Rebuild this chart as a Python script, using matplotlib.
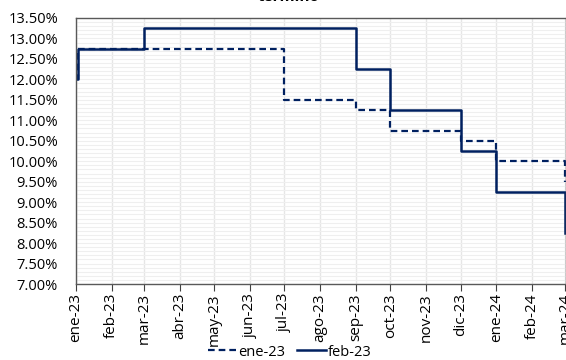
import matplotlib
matplotlib.use("Agg")
import matplotlib.pyplot as plt
from matplotlib.ticker import MultipleLocator, FuncFormatter
import pandas as pd

plt.rcParams['font.family'] = ['Open Sans', 'DejaVu Sans']

# Policy-rate path expected in each survey (change dates and levels, %)
ene23_dates = ['2023-01-01', '2023-01-03', '2023-07-01', '2023-09-01',
               '2023-10-01', '2023-12-01', '2024-01-01', '2024-03-01']
ene23_vals = [12.00, 12.75, 11.50, 11.25, 10.75, 10.50, 10.00, 9.50]

feb23_dates = ['2023-01-01', '2023-01-03', '2023-03-01', '2023-09-01',
               '2023-10-01', '2023-12-01', '2024-01-01', '2024-03-01']
feb23_vals = [12.00, 12.75, 13.25, 12.25, 11.25, 10.25, 9.25, 8.25]

month_ticks = pd.date_range('2023-01-01', '2024-03-01', freq='MS')
month_abbr = ['ene', 'feb', 'mar', 'abr', 'may', 'jun', 'jul', 'ago',
              'sep', 'oct', 'nov', 'dic']
tick_labels = [f"{month_abbr[d.month - 1]}-{d.year % 100:02d}" for d in month_ticks]

navy = '#002060'

fig = plt.figure(figsize=(5.66, 3.60), dpi=100)
ax = fig.add_axes([76 / 566, 76 / 360, 490 / 566, 266 / 360])

ax.plot(pd.to_datetime(ene23_dates), ene23_vals, drawstyle='steps-post',
        color=navy, lw=1.6, linestyle=(0, (3, 1.8)), label='ene-23')
ax.plot(pd.to_datetime(feb23_dates), feb23_vals, drawstyle='steps-post',
        color=navy, lw=1.8, label='feb-23')

ax.set_xlim(pd.Timestamp('2023-01-01'), pd.Timestamp('2024-03-01') + pd.Timedelta(hours=12))
ax.set_ylim(7.0, 13.5)

ax.set_xticks(month_ticks)
ax.set_xticklabels(tick_labels, rotation=90, fontsize=11)
ax.yaxis.set_major_locator(MultipleLocator(0.5))
ax.yaxis.set_minor_locator(MultipleLocator(0.1))
ax.yaxis.set_major_formatter(FuncFormatter(lambda v, p: f"{v:.2f}%"))
ax.tick_params(axis='y', which='both', length=0, labelsize=10.5, pad=13)
ax.tick_params(axis='x', length=5, color='#404040', pad=1.5)

ax.grid(axis='x', which='major', color='#e6e6e6', lw=1.0)
ax.grid(axis='y', which='both', color='#efefef', lw=0.8)
ax.set_axisbelow(True)

for side in ['left', 'top', 'bottom', 'right']:
    ax.spines[side].set_color('#595959')
    ax.spines[side].set_linewidth(1.0)

fig.text(0.51, 1 - 0.6 / 360, 'término', ha='center', va='baseline',
         fontsize=11, fontweight='bold')

fig.legend(loc='center', bbox_to_anchor=(0.512, 8 / 360), ncol=2, frameon=False,
           fontsize=10.5, handlelength=2.0, handletextpad=0.1, columnspacing=0.8,
           borderpad=0)

fig.savefig('out.png', dpi=100)
